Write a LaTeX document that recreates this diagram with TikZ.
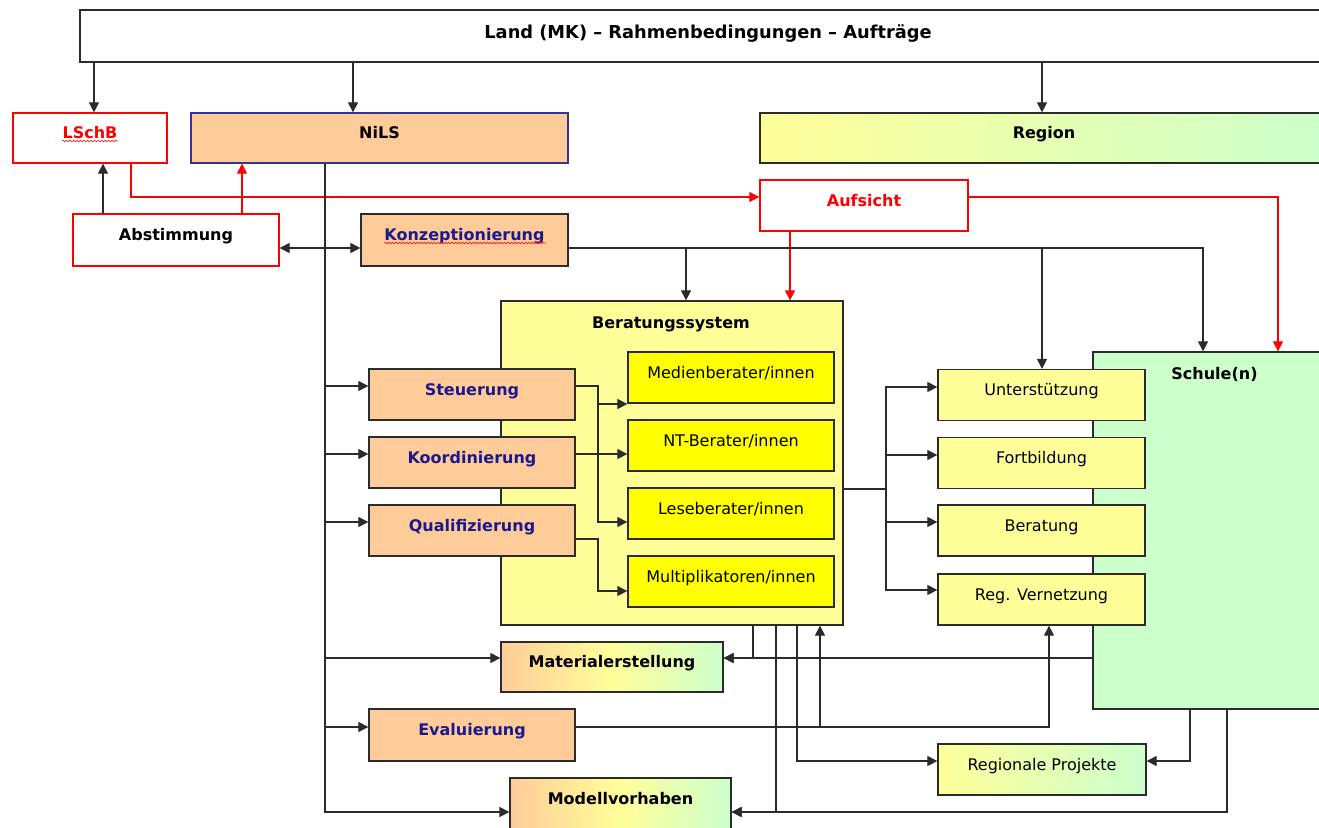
\documentclass[tikz,border=0pt]{standalone}
\usepackage{fontspec}
\setmainfont{DejaVu Sans}
\usetikzlibrary{arrows.meta,decorations.pathmorphing}
\definecolor{peach}{HTML}{FFCC99}
\definecolor{lyellow}{HTML}{FFFF99}
\definecolor{yel}{HTML}{FFFF00}
\definecolor{lgreen}{HTML}{CCFFCC}
\definecolor{navyt}{HTML}{1A1A8C}
\definecolor{lc}{HTML}{2B2B2B}
\definecolor{redl}{HTML}{FF0000}
\definecolor{nilsb}{HTML}{333399}
\newcommand\fsnorm{\fontsize{16}{19}\selectfont}
\newcommand\fsbig{\fontsize{17.8}{21}\selectfont}
\begin{document}
\begin{tikzpicture}[x=1pt,y=-1pt,
 bx/.style={draw=lc,line width=1.3pt,inner sep=0pt,text height=12pt,text depth=11pt,font=\fsnorm},
 bld/.style={font=\fsnorm\bfseries},
 arr/.style={draw=lc,line width=1.2pt,-{Triangle[length=10pt,width=10pt]}},
 darr/.style={draw=lc,line width=1.2pt,{Triangle[length=10pt,width=10pt]}-{Triangle[length=10pt,width=10pt]}},
 rarr/.style={draw=redl,line width=1.2pt,-{Triangle[length=10pt,width=10pt]}},
 wavy/.style={draw=redl,line width=0.6pt,decorate,decoration={snake,amplitude=0.9pt,segment length=3.5pt}},
 grad3/.style={left color=peach,right color=lgreen,middle color=lyellow},
 grad2/.style={left color=lyellow,right color=lgreen}
]
\useasboundingbox (0,0) rectangle (1319,827);
\clip (0,0) rectangle (1319,827);
\fill[white] (0,0) rectangle (1319,827);

% top row
\node[bx,fill=white,minimum width=1256pt,minimum height=52pt,text depth=8pt,font=\fsbig\bfseries] (land) at (708,36) {Land (MK) – Rahmenbedingungen – Aufträge};
\node[bx,draw=redl,fill=white,minimum width=154pt,minimum height=50pt,bld,text=redl] (lschb) at (90,138) {LSchB};
\node[bx,draw=nilsb,fill=peach,minimum width=377pt,minimum height=50pt,bld] (nils) at (379.5,138) {NiLS};
\node[bx,grad2,minimum width=568pt,minimum height=50pt,bld] (region) at (1044,138) {Region};
\node[bx,draw=redl,fill=white,minimum width=208pt,minimum height=51pt,bld,text=redl] (aufsicht) at (864,205.5) {Aufsicht};
\node[bx,draw=redl,fill=white,minimum width=206pt,minimum height=52pt,bld] (abst) at (176,240) {Abstimmung};
\node[bx,fill=peach,minimum width=207pt,minimum height=52pt,bld,text=navyt] (konz) at (464.5,240) {Konzeptionierung};

% big containers
\node[bx,fill=lyellow,minimum width=342pt,minimum height=324pt] (berat) at (672,463) {};
\node[bld,anchor=base,inner sep=0pt] (beratT) at (671,328) {Beratungssystem};
\node[bx,fill=lgreen,minimum width=247pt,minimum height=357pt] (schule) at (1216.5,530.5) {};
\node[bld,anchor=base,inner sep=0pt] (schuleT) at (1214.5,379) {Schule(n)};

% inner boxes
\node[bx,fill=yel,minimum width=206pt,minimum height=51pt] (medien) at (731,377.5) {Medienberater/innen};
\node[bx,fill=yel,minimum width=206pt,minimum height=51pt] (nt) at (731,445.5) {NT-Berater/innen};
\node[bx,fill=yel,minimum width=206pt,minimum height=51pt] (lese) at (731,513.5) {Leseberater/innen};
\node[bx,fill=yel,minimum width=206pt,minimum height=51pt] (multi) at (731,581.5) {Multiplikatoren/innen};

\node[bx,fill=peach,minimum width=206pt,minimum height=51pt,bld,text=navyt] (steuer) at (472,394.5) {Steuerung};
\node[bx,fill=peach,minimum width=206pt,minimum height=51pt,bld,text=navyt] (koord) at (472,462.5) {Koordinierung};
\node[bx,fill=peach,minimum width=206pt,minimum height=51pt,bld,text=navyt] (qual) at (472,530.5) {Qualifizierung};

\node[bx,fill=lyellow,minimum width=207pt,minimum height=51pt] (unterst) at (1041.5,395) {Unterstützung};
\node[bx,fill=lyellow,minimum width=207pt,minimum height=51pt] (fortb) at (1041.5,463) {Fortbildung};
\node[bx,fill=lyellow,minimum width=207pt,minimum height=51pt] (beratung) at (1041.5,530.5) {Beratung};
\node[bx,fill=lyellow,minimum width=207pt,minimum height=51pt] (regvern) at (1041.5,599.5) {Reg. Vernetzung};

\node[bx,grad3,minimum width=222pt,minimum height=50pt,bld] (material) at (612,667) {Materialerstellung};
\node[bx,fill=peach,minimum width=206pt,minimum height=52pt,bld,text=navyt] (eval) at (472,735) {Evaluierung};
\node[bx,grad3,minimum width=221pt,minimum height=51pt,bld] (modell) at (620.5,803.5) {Modellvorhaben};
\node[bx,grad2,minimum width=208pt,minimum height=51pt] (regproj) at (1042,769.5) {Regionale Projekte};

% spell-check underlines
\draw[wavy] ([xshift=-28pt,yshift=-2.5pt]lschb.base) -- ([xshift=28pt,yshift=-2.5pt]lschb.base);
\draw[wavy] ([xshift=-80pt,yshift=-2.5pt]konz.base) -- ([xshift=81pt,yshift=-2.5pt]konz.base);

% from Land
\draw[arr] (land.south -| 94,0) -- (lschb.north -| 94,0);
\draw[arr] (land.south -| 353,0) -- (nils.north -| 353,0);
\draw[arr] (land.south -| 1042,0) -- (region.north -| 1042,0);

% Abstimmung
\draw[arr] (abst.north -| 103,0) -- (lschb.south -| 103,0);
\draw[rarr] (abst.north -| 242,0) -- (nils.south -| 242,0);
\draw[darr] (abst.east |- 0,248) -- (konz.west |- 0,248);

% Aufsicht (red)
\draw[rarr] (lschb.south -| 131,0) |- (aufsicht.west |- 0,197);
\draw[rarr] (aufsicht.south -| 790,0) -- (berat.north -| 790,0);
\draw[rarr] (aufsicht.east |- 0,197) -| (schule.north -| 1278,0);

% Konzeptionierung
\draw[arr] (konz.east |- 0,248) -| (berat.north -| 686,0);
\draw[arr] (konz.east |- 0,248) -| (unterst.north -| 1042,0);
\draw[arr] (konz.east |- 0,248) -| (schule.north -| 1203,0);

% NiLS trunk
\draw[arr] (nils.south -| 325,0) |- (steuer.west |- 0,386);
\draw[arr] (nils.south -| 325,0) |- (koord.west |- 0,454);
\draw[arr] (nils.south -| 325,0) |- (qual.west |- 0,522);
\draw[arr] (nils.south -| 325,0) |- (material.west |- 0,658);
\draw[arr] (nils.south -| 325,0) |- (eval.west |- 0,727);
\draw[arr] (nils.south -| 325,0) |- (modell.west |- 0,812);

% bus into Beratungssystem
\draw[arr] (steuer.east |- 0,386) -- (598,386) |- (medien.west |- 0,404);
\draw[arr] (steuer.east |- 0,386) -- (598,386) |- (lese.west |- 0,522);
\draw[arr] (koord.east |- 0,454) -- (nt.west |- 0,454);
\draw[arr] (qual.east |- 0,539) -- (598,539) |- (multi.west |- 0,591);

% Beratungssystem to the right
\draw[arr] (berat.east |- 0,489) -- (886,489) |- (unterst.west |- 0,387);
\draw[arr] (berat.east |- 0,489) -- (886,489) |- (fortb.west |- 0,455);
\draw[arr] (berat.east |- 0,489) -- (886,489) |- (beratung.west |- 0,522);
\draw[arr] (berat.east |- 0,489) -- (886,489) |- (regvern.west |- 0,590);

% bottom
\draw[arr] (berat.south -| 753,0) |- (material.east |- 0,658);
\draw[arr] (schule.west |- 0,658) -- (material.east |- 0,658);
\draw[arr] (berat.south -| 776,0) |- (modell.east |- 0,812);
\draw[arr] (berat.south -| 797,0) |- (regproj.west |- 0,761);
\draw[arr] (eval.east |- 0,727) -| (berat.south -| 820,0);
\draw[arr] (eval.east |- 0,727) -| (regvern.south -| 1049,0);
\draw[arr] (schule.south -| 1190,0) |- (regproj.east |- 0,761);
\draw[arr] (schule.south -| 1227,0) |- (modell.east |- 0,812);
\end{tikzpicture}
\end{document}
